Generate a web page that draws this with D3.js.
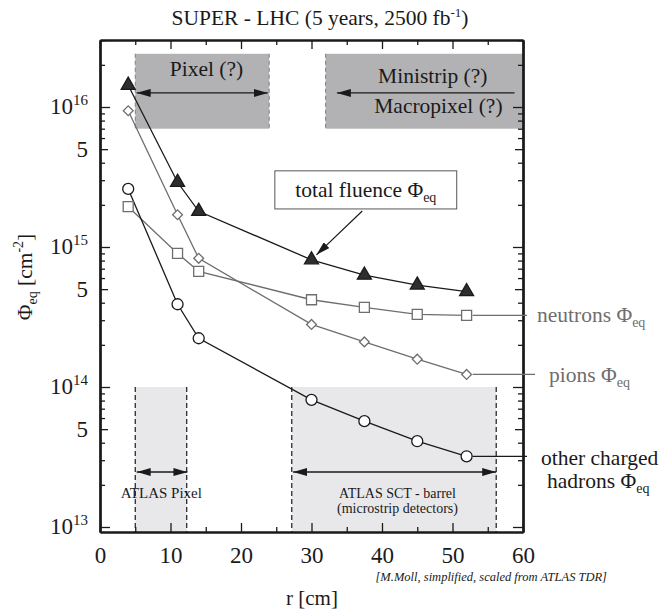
<!DOCTYPE html>
<html>
<head>
<meta charset="utf-8">
<script src="https://cdn.jsdelivr.net/npm/d3@7"></script>
<style>
  body { margin: 0; background: #fff; }
  text { font-family: "Liberation Serif", "Times New Roman", serif; }
</style>
</head>
<body>
<div id="chart"></div>
<script>
// data
const radius = [4, 11, 14, 30, 37.5, 45, 52];
const totalFluence = [1.43e16, 2.9e15, 1.8e15, 8.1e14, 6.3e14, 5.35e14, 4.8e14];
const pionFluence = [9.4e15, 1.7e15, 8.3e14, 2.8e14, 2.1e14, 1.58e14, 1.23e14];
const neutronFluence = [1.94e15, 9.0e14, 6.7e14, 4.2e14, 3.7e14, 3.3e14, 3.25e14];
const chargedFluence = [2.6e15, 3.9e14, 2.23e14, 8.1e13, 5.7e13, 4.1e13, 3.2e13];

const xTicks = [0, 10, 20, 30, 40, 50, 60];
const decades = [13, 14, 15, 16];

// shaded detector regions [r0, r1, phi0, phi1]
const futureBoxes = [[5, 24, 7e15, 2.4e16], [32, 60, 7e15, 2.4e16]];
const atlasBoxes = [[5, 12.3, 9e12, 1e14], [27.2, 56.2, 9e12, 1e14]];

const margin = {top: 40, right: 136, bottom: 80, left: 100};
const W = 659, H = 612;
const width = W - margin.left - margin.right;
const height = H - margin.top - margin.bottom;
const FS = 21.5;

const svg = d3.select('#chart').append('svg')
    .attr('width', W).attr('height', H);

// arrow heads
const defs = svg.append('defs');
defs.append('marker')
    .attr('id', 'ah').attr('viewBox', '0 0 14 8')
    .attr('refX', 14).attr('refY', 4)
    .attr('markerWidth', 14).attr('markerHeight', 8)
    .attr('markerUnits', 'userSpaceOnUse')
    .attr('orient', 'auto-start-reverse')
    .append('path').attr('d', 'M0,0 L14,4 L0,8 Z').attr('fill', '#1a1a1a');

const g = svg.append('g').attr('transform', `translate(${margin.left},${margin.top})`);

const x = d3.scaleLinear().domain([0, 60]).range([0, width]);
const y = d3.scaleLog().domain([Math.pow(10, 12.9643), Math.pow(10, 16.4786)]).range([height, 0]);

// regions
futureBoxes.forEach(b => {
    g.append('rect')
        .attr('x', x(b[0])).attr('y', y(b[3]))
        .attr('width', x(b[1]) - x(b[0])).attr('height', y(b[2]) - y(b[3]))
        .attr('fill', '#b2b2b5');
});
[[5, 0], [24, 0], [32, 1]].forEach(d => {
    const b = futureBoxes[d[1]];
    g.append('line')
        .attr('x1', x(d[0])).attr('x2', x(d[0]))
        .attr('y1', y(b[3])).attr('y2', y(b[2]))
        .attr('stroke', '#808080').attr('stroke-width', 1).attr('stroke-dasharray', '4,3');
});
atlasBoxes.forEach(b => {
    g.append('rect')
        .attr('x', x(b[0])).attr('y', y(b[3]))
        .attr('width', x(b[1]) - x(b[0])).attr('height', height - y(b[3]))
        .attr('fill', '#e8e8ea');
    [b[0], b[1]].forEach(r => {
        g.append('line')
            .attr('x1', x(r)).attr('x2', x(r))
            .attr('y1', y(b[3])).attr('y2', height)
            .attr('stroke', '#1a1a1a').attr('stroke-width', 1.2).attr('stroke-dasharray', '5,3');
    });
});

// range arrows
function arrow(r0, r1, phi, both) {
    g.append('line')
        .attr('x1', x(r0)).attr('x2', x(r1))
        .attr('y1', y(phi)).attr('y2', y(phi))
        .attr('stroke', '#1a1a1a').attr('stroke-width', 1.3)
        .attr('marker-end', 'url(#ah)')
        .attr('marker-start', both ? 'url(#ah)' : null);
}
arrow(5.2, 23.8, 1.26e16, true);
arrow(58.8, 33.6, 1.26e16, false);
arrow(5.2, 12.4, 2.47e13, true);
arrow(27.4, 56.2, 2.47e13, true);

// box texts
const txt = (xx, yy, s, size) => g.append('text')
    .attr('x', xx).attr('y', yy).attr('font-size', size)
    .attr('text-anchor', 'middle').attr('fill', '#1a1a1a').text(s);
txt(x(15.1), 36, 'Pixel (?)', FS);
txt(x(47.2), 43, 'Ministrip (?)', FS);
txt(x(48.0), 73, 'Macropixel (?)', FS);
txt(x(8.7), y(2.47e13) + 26, 'ATLAS Pixel', 15);
txt(x(42.2), y(2.47e13) + 26, 'ATLAS SCT - barrel', 14);
txt(x(42.2), y(2.47e13) + 41, '(microstrip detectors)', 14);

// axes
const frame = g.append('g');
const bottom = frame.append('g').attr('transform', `translate(0,${height})`)
    .call(d3.axisBottom(x).tickValues(xTicks).tickSizeInner(-9).tickSizeOuter(0).tickPadding(14.5));
bottom.selectAll('text').attr('font-size', 23).attr('fill', '#1a1a1a').attr('font-family', 'Liberation Serif');
frame.append('g').attr('transform', `translate(0,${height})`)
    .call(d3.axisBottom(x).tickValues(d3.range(5, 60, 10)).tickSizeInner(-5).tickSizeOuter(0).tickFormat(''));
frame.append('g')
    .call(d3.axisTop(x).tickValues(xTicks).tickSizeInner(-9).tickSizeOuter(0).tickFormat(''));
frame.append('g')
    .call(d3.axisTop(x).tickValues(d3.range(5, 60, 10)).tickSizeInner(-5).tickSizeOuter(0).tickFormat(''));

const majorY = decades.map(d => Math.pow(10, d));
const fiveY = decades.map(d => 5 * Math.pow(10, d)).filter(v => v < y.domain()[1]);
const minorY = [];
decades.forEach(d => [2, 3, 4, 6, 7, 8, 9].forEach(m => {
    const v = m * Math.pow(10, d);
    if (v < y.domain()[1]) minorY.push(v);
}));
[[majorY, 10], [fiveY, 8], [minorY, 5]].forEach(t => {
    frame.append('g').call(d3.axisLeft(y).tickValues(t[0]).tickSizeInner(-t[1]).tickSizeOuter(0).tickFormat(''));
    frame.append('g').attr('transform', `translate(${width},0)`)
        .call(d3.axisRight(y).tickValues(t[0]).tickSizeInner(-t[1]).tickSizeOuter(0).tickFormat(''));
});
frame.selectAll('.domain').attr('stroke', '#1a1a1a').attr('stroke-width', 2);
frame.selectAll('.tick line').attr('stroke', '#1a1a1a').attr('stroke-width', 1.3);

// y tick labels
majorY.forEach((v, i) => {
    const t = g.append('text').attr('x', -12).attr('y', y(v) + 7)
        .attr('text-anchor', 'end').attr('font-size', 23).attr('fill', '#1a1a1a');
    t.append('tspan').text('10');
    t.append('tspan').attr('dy', -9).attr('font-size', 15).text(decades[i]);
});
fiveY.forEach(v => {
    g.append('text').attr('x', -12).attr('y', y(v) + 8)
        .attr('text-anchor', 'end').attr('font-size', 23).attr('fill', '#1a1a1a').text('5');
});

// series
const series = [
    {vals: neutronFluence, color: '#6e6e6e', shape: 'square'},
    {vals: pionFluence, color: '#6e6e6e', shape: 'diamond'},
    {vals: chargedFluence, color: '#1a1a1a', shape: 'circle'},
    {vals: totalFluence, color: '#1a1a1a', shape: 'triangle'}
];
const line = d3.line().x(d => x(d[0])).y(d => y(d[1]));
series.forEach(s => {
    g.append('path').datum(radius.map((r, i) => [r, s.vals[i]]))
        .attr('d', line).attr('fill', 'none')
        .attr('stroke', s.color).attr('stroke-width', 1.3);
});
const symbols = {
    square: d3.symbol(d3.symbolSquare, 100),
    diamond: d3.symbol(d3.symbolSquare, 48),
    circle: d3.symbol(d3.symbolCircle, 95),
    triangle: d3.symbol(d3.symbolTriangle, 85)
};
series.forEach(s => {
    g.selectAll(null).data(radius.map((r, i) => [r, s.vals[i]])).enter()
        .append('path')
        .attr('d', symbols[s.shape])
        .attr('transform', d => `translate(${x(d[0])},${y(d[1])})` + (s.shape === 'diamond' ? ' rotate(45)' : ''))
        .attr('fill', s.shape === 'triangle' ? '#2e2e2e' : '#fff')
        .attr('stroke', s.color).attr('stroke-width', 1.3);
});

// legend labels outside the frame
function legend(vals, color, xEnd, lines) {
    const last = vals[vals.length - 1];
    g.append('line')
        .attr('x1', x(52) + 6).attr('x2', xEnd)
        .attr('y1', y(last)).attr('y2', y(last))
        .attr('stroke', color).attr('stroke-width', 1.3);
    lines.forEach(l => {
        const t = g.append('text').attr('x', l.x).attr('y', y(last) + l.dy)
            .attr('font-size', FS).attr('fill', color);
        t.append('tspan').text(l.s);
        if (l.phi) {
            t.append('tspan').text('\u03A6');
            t.append('tspan').attr('dy', 5).attr('font-size', 14).text('eq');
        }
    });
}
legend(neutronFluence, '#6e6e6e', width + 4, [{s: 'neutrons ', phi: true, x: width + 14, dy: 7}]);
legend(pionFluence, '#6e6e6e', width + 12, [{s: 'pions ', phi: true, x: width + 26, dy: 8}]);
legend(chargedFluence, '#1a1a1a', width + 4,
    [{s: 'other charged', x: width + 18, dy: 9}, {s: 'hadrons ', phi: true, x: width + 24, dy: 32}]);

// total fluence call-out
const boxR = [24.8, 50.6], boxPhi = [1.87e15, 3.5e15];
g.append('rect')
    .attr('x', x(boxR[0])).attr('y', y(boxPhi[1]))
    .attr('width', x(boxR[1]) - x(boxR[0])).attr('height', y(boxPhi[0]) - y(boxPhi[1]))
    .attr('fill', '#fff').attr('stroke', '#555').attr('stroke-width', 1);
const tf = g.append('text').attr('x', (x(boxR[0]) + x(boxR[1])) / 2).attr('y', y(boxPhi[1]) + 26)
    .attr('text-anchor', 'middle').attr('font-size', FS).attr('fill', '#1a1a1a');
tf.append('tspan').text('total fluence \u03A6');
tf.append('tspan').attr('dy', 5).attr('font-size', 14).text('eq');
g.append('line')
    .attr('x1', x(37.2)).attr('y1', y(boxPhi[0]) + 2)
    .attr('x2', x(30.7)).attr('y2', y(8.1e14) - 5)
    .attr('stroke', '#1a1a1a').attr('stroke-width', 1.2)
    .attr('marker-end', 'url(#ah)');

// titles
const title = svg.append('text').attr('x', 320).attr('y', 25)
    .attr('text-anchor', 'middle').attr('font-size', FS).attr('fill', '#1a1a1a');
title.append('tspan').text('SUPER - LHC (5 years, 2500 fb');
title.append('tspan').attr('dy', -8).attr('font-size', 13).text('-1');
title.append('tspan').attr('dy', 8).text(')');

svg.append('text').attr('x', 312).attr('y', 605)
    .attr('text-anchor', 'middle').attr('font-size', 21).attr('fill', '#1a1a1a').text('r [cm]');

const yl = svg.append('text').attr('transform', 'translate(32,277) rotate(-90)')
    .attr('text-anchor', 'middle').attr('font-size', FS).attr('fill', '#1a1a1a');
yl.append('tspan').text('\u03A6');
yl.append('tspan').attr('dy', 5).attr('font-size', 14).text('eq');
yl.append('tspan').attr('dy', -5).text(' [cm');
yl.append('tspan').attr('dy', -9).attr('font-size', 14).text('-2');
yl.append('tspan').attr('dy', 9).text(']');

svg.append('text').attr('x', 607).attr('y', 581)
    .attr('text-anchor', 'end').attr('font-size', 12.5).attr('font-style', 'italic')
    .attr('fill', '#1a1a1a').text('[M.Moll, simplified, scaled from ATLAS TDR]');
</script>
</body>
</html>
